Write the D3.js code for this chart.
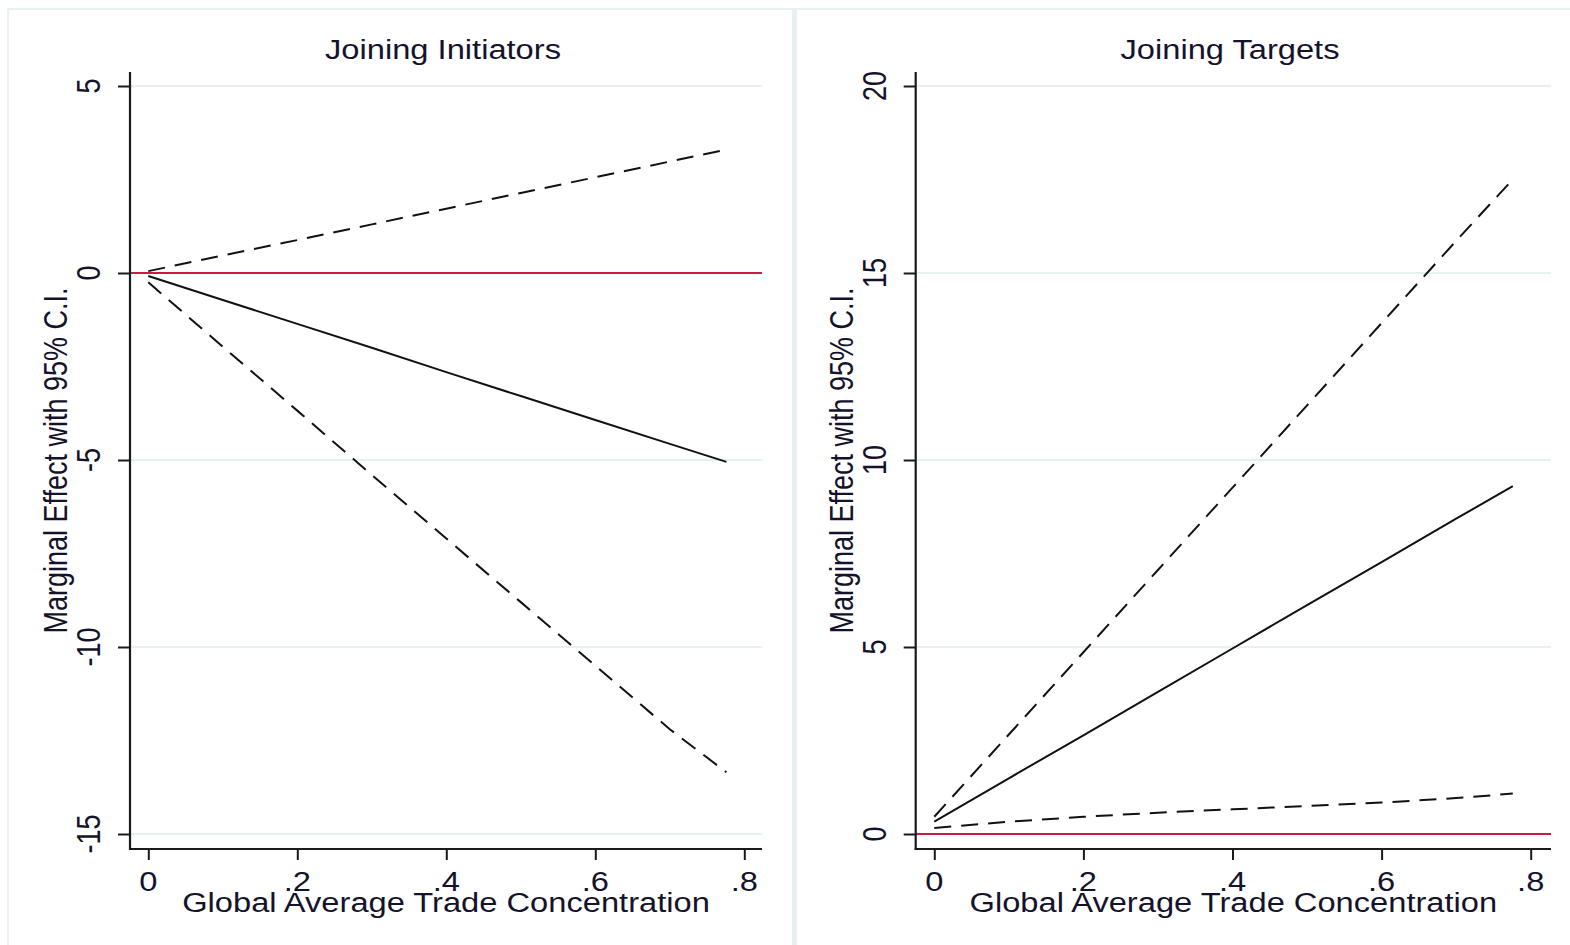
<!DOCTYPE html>
<html>
<head>
<meta charset="utf-8">
<script src="https://cdn.jsdelivr.net/npm/d3@7"></script>
<style>
  html, body { margin: 0; padding: 0; background: #ffffff; }
  svg { display: block; }
  text { font-family: "Liberation Sans", Arial, sans-serif; fill: #15132b; }
</style>
</head>
<body>
<svg id="chart" width="1570" height="945"></svg>
<script>
// ---------------- data ----------------
const panelTitles = ["Joining Initiators", "Joining Targets"];
const xLabel = "Global Average Trade Concentration";
const yLabel = "Marginal Effect with 95% C.I.";

const xTicks = [0, 0.2, 0.4, 0.6, 0.8];
const xTickLabels = ["0", ".2", ".4", ".6", ".8"];

const yTicksInit = [-15, -10, -5, 0, 5];
const yTickLabelsInit = ["-15", "-10", "-5", "0", "5"];
const yTicksTarg = [0, 5, 10, 15, 20];
const yTickLabelsTarg = ["0", "5", "10", "15", "20"];

// trade concentration values at which effects were read
const conc = [0, 0.1, 0.2, 0.3, 0.4, 0.5, 0.6, 0.7, 0.776];

// Joining Initiators
const initEffect = [-0.08, -0.72, -1.36, -2.00, -2.65, -3.29, -3.93, -4.57, -5.05];
const initUpper  = [0.05, 0.47, 0.88, 1.30, 1.72, 2.14, 2.56, 2.98, 3.30];
const initLower  = [-0.25, -1.97, -3.68, -5.40, -7.10, -8.80, -10.50, -12.20, -13.35];

// Joining Targets
const targEffect = [0.33, 1.49, 2.64, 3.80, 4.96, 6.12, 7.27, 8.43, 9.30];
const targUpper  = [0.46, 2.66, 4.86, 7.06, 9.26, 11.46, 13.66, 15.86, 17.50];
const targLower  = [0.16, 0.33, 0.46, 0.57, 0.66, 0.75, 0.84, 0.96, 1.08];

// ---------------- layout ----------------
const svg = d3.select("#chart");
const FS = 27, STRETCH = 1.21;
const lineCol = "#111111", gridCol = "#e8f0f2", refCol = "#c91c45";

// background frame (Stata graph region outlines)
svg.append("rect").attr("x", 8).attr("y", 9).attr("width", 1570).attr("height", 945)
  .attr("fill", "none").attr("stroke", gridCol).attr("stroke-width", 2);
svg.append("rect").attr("x", 792).attr("y", 10).attr("width", 5).attr("height", 935)
  .attr("fill", gridCol);

const panels = [
  {
    title: panelTitles[0], titleX: 443,
    plot: {left: 130, right: 762, top: 72, bottom: 849},
    xRange: [148.3, 744.3], yDomain: [-15, 5], yRange: [834, 86],
    yTicks: yTicksInit, yTickLabels: yTickLabelsInit,
    effect: initEffect, upper: initUpper, lower: initLower,
    yTitleX: 67
  },
  {
    title: panelTitles[1], titleX: 1230,
    plot: {left: 915.7, right: 1551, top: 72, bottom: 849},
    xRange: [934.3, 1530.7], yDomain: [0, 20], yRange: [834, 86],
    yTicks: yTicksTarg, yTickLabels: yTickLabelsTarg,
    effect: targEffect, upper: targUpper, lower: targLower,
    yTitleX: 853
  }
];

function hText(g, x, y, str) {
  return g.append("text")
    .attr("transform", `translate(${x},${y}) scale(${STRETCH},1)`)
    .attr("text-anchor", "middle")
    .attr("font-size", FS)
    .text(str);
}
function vText(g, x, y, str) {
  return g.append("text")
    .attr("transform", `translate(${x},${y}) scale(${STRETCH},1) rotate(-90)`)
    .attr("text-anchor", "middle")
    .attr("font-size", FS)
    .text(str);
}

panels.forEach(p => {
  const g = svg.append("g");
  const x = d3.scaleLinear().domain([0, 0.8]).range(p.xRange);
  const y = d3.scaleLinear().domain(p.yDomain).range(p.yRange);
  const P = p.plot;

  // gridlines
  g.selectAll(".grid").data(p.yTicks).join("line")
    .attr("x1", P.left).attr("x2", P.right)
    .attr("y1", d => y(d)).attr("y2", d => y(d))
    .attr("stroke", gridCol).attr("stroke-width", 2);

  // reference line at zero
  g.append("line")
    .attr("x1", P.left).attr("x2", P.right)
    .attr("y1", y(0)).attr("y2", y(0))
    .attr("stroke", refCol).attr("stroke-width", 2);

  // data lines
  const pts = arr => arr.map((v, i) => [conc[i], v]);
  const line = d3.line().x(d => x(d[0])).y(d => y(d[1]));
  g.append("path").datum(pts(p.upper)).attr("d", line)
    .attr("fill", "none").attr("stroke", lineCol).attr("stroke-width", 2)
    .attr("stroke-dasharray", "17,10");
  g.append("path").datum(pts(p.lower)).attr("d", line)
    .attr("fill", "none").attr("stroke", lineCol).attr("stroke-width", 2)
    .attr("stroke-dasharray", "17,10");
  g.append("path").datum(pts(p.effect)).attr("d", line)
    .attr("fill", "none").attr("stroke", lineCol).attr("stroke-width", 2);

  // axes (ticks via d3 axis)
  const yAxis = d3.axisLeft(y).tickValues(p.yTicks).tickSize(12).tickSizeOuter(0).tickFormat("");
  const ya = g.append("g").attr("transform", `translate(${P.left},0)`).call(yAxis);
  const xAxis = d3.axisBottom(x).tickValues(xTicks).tickSize(11).tickSizeOuter(0).tickFormat("");
  const xa = g.append("g").attr("transform", `translate(0,${P.bottom})`).call(xAxis);
  [ya, xa].forEach(a => {
    a.select(".domain").remove();
    a.selectAll(".tick line").attr("stroke", "#1a1a1a").attr("stroke-width", 2);
  });
  g.append("line").attr("x1", P.left).attr("x2", P.left).attr("y1", P.top).attr("y2", P.bottom + 1)
    .attr("stroke", "#1a1a1a").attr("stroke-width", 2.2);
  g.append("line").attr("x1", P.left - 1).attr("x2", P.right).attr("y1", P.bottom).attr("y2", P.bottom)
    .attr("stroke", "#1a1a1a").attr("stroke-width", 2.2);

  // tick labels
  p.yTicks.forEach((t, i) => vText(g, P.left - 30, y(t), p.yTickLabels[i]));
  xTicks.forEach((t, i) => hText(g, x(t), 891, xTickLabels[i]));

  // titles
  hText(g, p.titleX, 59, p.title);
  hText(g, (P.left + P.right) / 2, 912, xLabel);
  vText(g, p.yTitleX, (P.top + P.bottom) / 2, yLabel);
});
</script>
</body>
</html>
